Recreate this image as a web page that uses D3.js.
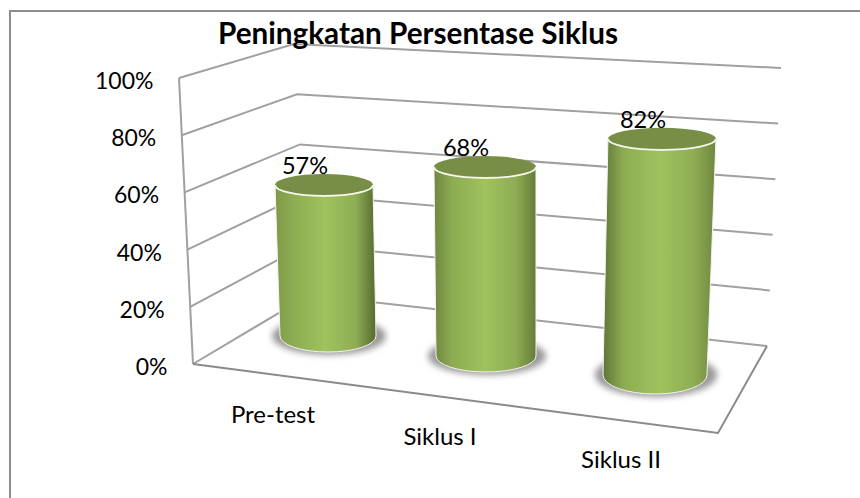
<!DOCTYPE html>
<html>
<head>
<meta charset="utf-8">
<script src="https://cdn.jsdelivr.net/npm/d3@7"></script>
<style>
  html, body { margin: 0; padding: 0; background: #fff; }
  svg { display: block; }
  text { font-family: Lato, "Open Sans", sans-serif; fill: #000; }
</style>
</head>
<body>
<div id="chart"></div>
<script>
var chartTitle = "Peningkatan Persentase Siklus";
var categories = ["Pre-test", "Siklus I", "Siklus II"];
var percentages = [57, 68, 82];
var tickValues = [0, 20, 40, 60, 80, 100];

var width = 860, height = 498;

var svg = d3.select("#chart").append("svg")
    .attr("width", width)
    .attr("height", height);

// fake 3d: each corner of the box gets its own value -> pixel scale
var frontLeftX = d3.scaleLinear().domain([0, 100]).range([193, 179]);
var frontLeftY = d3.scaleLinear().domain([0, 100]).range([364, 78]);
var backLeftX = d3.scaleLinear().domain([0, 100]).range([309, 294]);
var backLeftY = d3.scaleLinear().domain([0, 100]).range([295, 44]);
var backRightX = d3.scaleLinear().domain([0, 100]).range([767, 781]);
var backRightY = d3.scaleLinear().domain([0, 100]).range([346, 68]);

// per category geometry of the cylinders
var baseX = d3.scaleOrdinal(categories, [328, 486, 655]);
var baseY = d3.scaleOrdinal(categories, [336, 356, 375]);
var baseRx = d3.scaleOrdinal(categories, [48, 50, 52]);
var baseRy = d3.scaleOrdinal(categories, [16, 16, 19]);
var topRx = d3.scaleOrdinal(categories, [49, 51, 54]);
var pxPerPercent = d3.scaleOrdinal(categories, [2.65, 2.78, 2.88]);
var leanPerPercent = d3.scaleOrdinal(categories, [-0.07, -0.015, 0.085]);
var labelX = d3.scaleOrdinal(categories, [273, 440, 621]);
var labelY = d3.scaleOrdinal(categories, [423, 445, 468]);
var shadeLeft = d3.scaleOrdinal(categories, ["#7f9a48", "#6f8740", "#5f7637"]);
var shadeRight = d3.scaleOrdinal(categories, ["#56692f", "#667c39", "#6f8740"]);

var defs = svg.append("defs");

defs.append("filter")
    .attr("id", "shadowBlur")
    .attr("x", "-30%").attr("y", "-60%")
    .attr("width", "160%").attr("height", "220%")
    .append("feGaussianBlur")
    .attr("stdDeviation", 3);

categories.forEach(function(c, i) {
  var g = defs.append("linearGradient")
      .attr("id", "bar" + i)
      .attr("x1", 0).attr("x2", 1).attr("y1", 0).attr("y2", 0);
  g.append("stop").attr("offset", "0%").attr("stop-color", shadeLeft(c));
  g.append("stop").attr("offset", "18%").attr("stop-color", "#8dac52");
  g.append("stop").attr("offset", "50%").attr("stop-color", "#9fc25e");
  g.append("stop").attr("offset", "80%").attr("stop-color", "#8fad53");
  g.append("stop").attr("offset", "100%").attr("stop-color", shadeRight(c));
});

// outer frame, only top and left fall inside the crop
svg.append("path")
    .attr("d", "M10,498V11H860")
    .attr("fill", "none")
    .attr("stroke", "#8c8c8c")
    .attr("stroke-width", 2);

// gridlines on both walls
var grid = svg.append("g")
    .attr("fill", "none")
    .attr("stroke", "#a0a0a0")
    .attr("stroke-width", 2);

tickValues.forEach(function(v) {
  grid.append("path")
      .attr("d", d3.line()([
        [frontLeftX(v), frontLeftY(v)],
        [backLeftX(v), backLeftY(v)],
        [backRightX(v), backRightY(v)]
      ]));
});

grid.append("line")
    .attr("x1", frontLeftX(0)).attr("y1", frontLeftY(0))
    .attr("x2", frontLeftX(100)).attr("y2", frontLeftY(100));

// floor front edge
svg.append("path")
    .attr("d", d3.line()([
      [frontLeftX(0), frontLeftY(0)],
      [718, 433],
      [backRightX(0), backRightY(0)]
    ]))
    .attr("fill", "none")
    .attr("stroke", "#8a8a8a")
    .attr("stroke-width", 2);

// shadows under the bars
svg.selectAll(".shadow")
    .data(categories)
    .enter()
    .append("ellipse")
      .attr("class", "shadow")
      .attr("cx", function(d) { return baseX(d) + 1; })
      .attr("cy", function(d) { return baseY(d); })
      .attr("rx", function(d) { return baseRx(d) + 9; })
      .attr("ry", function(d) { return baseRy(d) + 3; })
      .attr("fill", "#9a9a9a")
      .attr("filter", "url(#shadowBlur)");

function cylinderPath(c, v) {
  var x0 = baseX(c), y0 = baseY(c), rx0 = baseRx(c), ry0 = baseRy(c);
  var x1 = x0 + leanPerPercent(c) * v, y1 = y0 - pxPerPercent(c) * v, rx1 = topRx(c);
  return "M" + (x1 - rx1) + "," + y1 +
      "L" + (x0 - rx0) + "," + y0 +
      "A" + rx0 + "," + ry0 + " 0 0 0 " + (x0 + rx0) + "," + y0 +
      "L" + (x1 + rx1) + "," + y1 +
      "A" + rx1 + ",11 0 0 1 " + (x1 - rx1) + "," + y1 + "Z";
}

var bars = svg.selectAll(".bar")
    .data(categories)
    .enter()
    .append("g")
      .attr("class", "bar");

bars.append("path")
    .attr("d", function(d, i) { return cylinderPath(d, percentages[i]); })
    .attr("fill", function(d, i) { return "url(#bar" + i + ")"; })
    .attr("stroke", "#f2f2f2")
    .attr("stroke-width", 1);

bars.append("ellipse")
    .attr("cx", function(d, i) { return baseX(d) + leanPerPercent(d) * percentages[i]; })
    .attr("cy", function(d, i) { return baseY(d) - pxPerPercent(d) * percentages[i]; })
    .attr("rx", function(d) { return topRx(d); })
    .attr("ry", 11)
    .attr("fill", "#788d45");

// white rim on the front of the top
bars.append("path")
    .attr("d", function(d, i) {
      var x = baseX(d) + leanPerPercent(d) * percentages[i];
      var y = baseY(d) - pxPerPercent(d) * percentages[i];
      var r = topRx(d);
      return "M" + (x - r) + "," + y + "A" + r + ",11 0 0 0 " + (x + r) + "," + y;
    })
    .attr("fill", "none")
    .attr("stroke", "#f4f6ea")
    .attr("stroke-width", 1.8);

// value labels
svg.selectAll(".value")
    .data(categories)
    .enter()
    .append("text")
      .attr("class", "value")
      .attr("x", function(d, i) { return baseX(d) + leanPerPercent(d) * percentages[i] - 19; })
      .attr("y", function(d, i) { return baseY(d) - pxPerPercent(d) * percentages[i] - 11; })
      .attr("text-anchor", "middle")
      .attr("font-size", 23.5)
      .text(function(d, i) { return percentages[i] + "%"; });

// value axis labels
svg.selectAll(".tick")
    .data(tickValues)
    .enter()
    .append("text")
      .attr("class", "tick")
      .attr("x", function(d) { return frontLeftX(d) - 25.5; })
      .attr("y", function(d) { return frontLeftY(d) + 11; })
      .attr("text-anchor", "end")
      .attr("font-size", 23)
      .text(function(d) { return d + "%"; });

// category labels
svg.selectAll(".category")
    .data(categories)
    .enter()
    .append("text")
      .attr("class", "category")
      .attr("x", function(d) { return labelX(d); })
      .attr("y", function(d) { return labelY(d); })
      .attr("text-anchor", "middle")
      .attr("font-size", 24)
      .text(function(d) { return d; });

svg.append("text")
    .attr("x", 418)
    .attr("y", 44)
    .attr("text-anchor", "middle")
    .attr("font-size", 29.7)
    .attr("font-weight", "bold")
    .text(chartTitle);
</script>
</body>
</html>
